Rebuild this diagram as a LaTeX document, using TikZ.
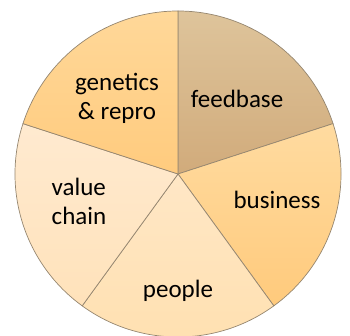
\documentclass[tikz,border=0pt]{standalone}
\usepackage{fontspec}
\setmainfont{Carlito}
\definecolor{rim}{HTML}{958670}
\definecolor{feedtop}{HTML}{DEC49B}
\definecolor{feedbot}{HTML}{D1AB7B}
\definecolor{genetop}{HTML}{FFD899}
\definecolor{genebot}{HTML}{FFCB7E}
\definecolor{bustop}{HTML}{FFDBA0}
\definecolor{busbot}{HTML}{FFCA7C}
\definecolor{valtop}{HTML}{FFEAD0}
\definecolor{valbot}{HTML}{FFE2BA}
\definecolor{peotop}{HTML}{FFE7C6}
\definecolor{peobot}{HTML}{FFE0B0}
\tikzset{
 slice/.style={draw=rim, line width=0.7pt, line join=round},
 piece/.style={font=\fontsize{25}{29}\selectfont, text=black, inner sep=0pt},
}

\begin{document}
\begin{tikzpicture}[x=1pt,y=1pt]
    \useasboundingbox (0,0) rectangle (350,336);
    \begin{scope}[shift={(178,162)}]
        \coordinate (mid) at (0,0);
        \path[slice, top color=feedtop, bottom color=feedbot] (mid) -- (90:163) arc (90:18:163pt) -- cycle;
        \path[slice, top color=bustop, bottom color=busbot] (mid) -- (18:163) arc (18:-54:163pt) -- cycle;
        \path[slice, top color=peotop, bottom color=peobot] (mid) -- (-54:163) arc (-54:-126:163pt) -- cycle;
        \path[slice, top color=valtop, bottom color=valbot] (mid) -- (-126:163) arc (-126:-198:163pt) -- cycle;
        \path[slice, top color=genetop, bottom color=genebot] (mid) -- (162:163) arc (162:90:163pt) -- cycle;
    \end{scope}
    \node[piece] (feedbase) at (237,237) {feedbase};
    \node[piece, align=center] (genetics) at (117,238) {genetics\\\& repro};
    \node[piece] (business) at (277,136) {business};
    \node[piece, align=left] (valuechain) at (79,135) {value\\chain};
    \node[piece] (people) at (178,45) {people};
\end{tikzpicture}
\end{document}
